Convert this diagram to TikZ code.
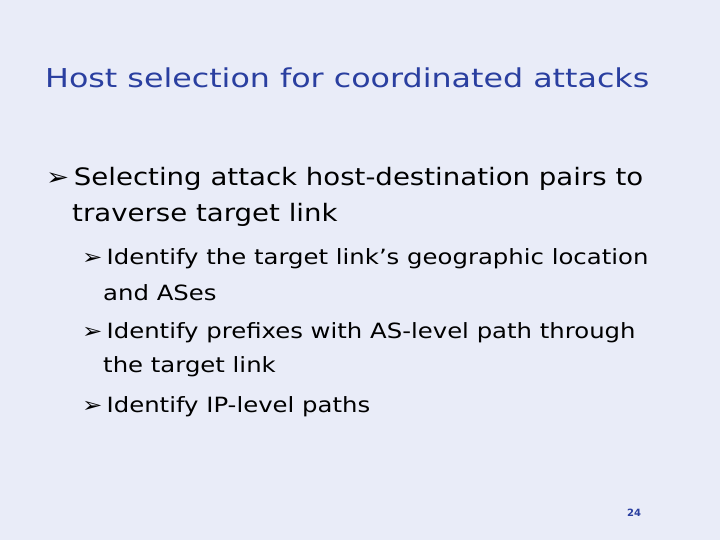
\documentclass[tikz,border=0pt]{standalone}
\usepackage{fontspec}
\usepackage{graphicx}
\setmainfont{DejaVu Sans}
\begin{document}
\begin{tikzpicture}[x=1pt,y=-1pt,
  txt/.style={anchor=base west,inner sep=0pt,text=black},
  ttl/.style={anchor=base west,inner sep=0pt,text=titleblue,font=\fontsize{26}{30}\selectfont},
  lv1/.style={txt,font=\fontsize{24}{28}\selectfont},
  lv2/.style={txt,font=\fontsize{21}{24}\selectfont}]
\definecolor{titleblue}{HTML}{2A3FA0}
\definecolor{bg}{HTML}{E9ECF8}
\fill[bg] (0,0) rectangle (720,540);
\useasboundingbox (0,0) rectangle (720,540);
\node[ttl] (title) at (45,88) {\scalebox{1.22}[1]{Host selection for coordinated attacks}};
\node[lv1] (b1) at (46,186) {\scalebox{1.15}[1]{➢\,Selecting attack host-destination pairs to}};
\node[lv1] (b1b) at (72,222) {\scalebox{1.15}[1]{traverse target link}};
\node[lv2] (s1) at (82,264) {\scalebox{1.16}[1]{➢\,Identify the target link’s geographic location}};
\node[lv2] (s1b) at (103,300) {\scalebox{1.16}[1]{and ASes}};
\node[lv2] (s2) at (82,338) {\scalebox{1.16}[1]{➢\,Identify prefixes with AS-level path through}};
\node[lv2] (s2b) at (103,372) {\scalebox{1.16}[1]{the target link}};
\node[lv2] (s3) at (82,412) {\scalebox{1.16}[1]{➢\,Identify IP-level paths}};
\node[anchor=base west,inner sep=0pt,text=titleblue,font=\bfseries\fontsize{10}{12}\selectfont] (pg) at (627,516) {24};
\end{tikzpicture}
\end{document}
